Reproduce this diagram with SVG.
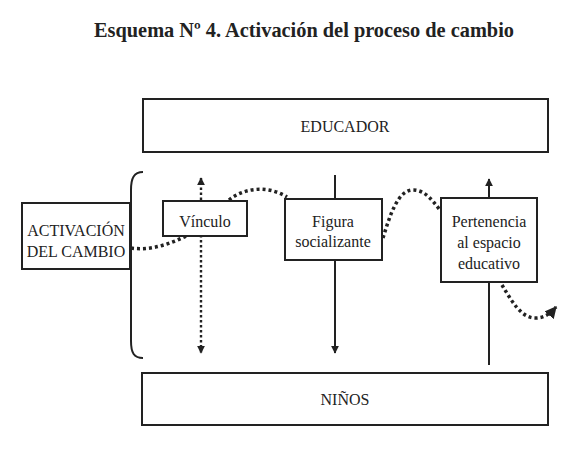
<svg xmlns="http://www.w3.org/2000/svg" width="580" height="450" viewBox="0 0 580 450" font-family="Liberation Serif, serif">
<style>
.box{fill:#fff;stroke:#222;stroke-width:2}
.t{font-size:16px;fill:#222;text-anchor:middle}
.dot{fill:none;stroke:#222;stroke-width:3.5;stroke-dasharray:3 3}
.solid{fill:none;stroke:#222;stroke-width:2}
.dl{fill:none;stroke:#222;stroke-width:2.4;stroke-dasharray:2.5 2.5}
</style>
<defs>
<marker id="ah" viewBox="0 0 10 10" refX="9" refY="5" markerWidth="8" markerHeight="8" markerUnits="userSpaceOnUse" orient="auto">
<path d="M0,0 L10,5 L0,10 z" fill="#222"/>
</marker>
<marker id="ahb" viewBox="0 0 10 10" refX="9" refY="5" markerWidth="12" markerHeight="12" markerUnits="userSpaceOnUse" orient="auto">
<path d="M0,0 L10,5 L0,10 z" fill="#222"/>
</marker>
</defs>
<rect width="580" height="450" fill="#fff"/>
<text x="304" y="37" font-weight="bold" font-size="21" fill="#222" text-anchor="middle" textLength="420" lengthAdjust="spacingAndGlyphs">Esquema Nº 4. Activación del proceso de cambio</text>

<g id="connectors">
<path class="dl" d="M201,230 L201,178" marker-end="url(#ah)"/>
<path class="dl" d="M201,230 L201,353" marker-end="url(#ah)"/>
<path class="solid" d="M335,175 L335,353" marker-end="url(#ah)"/>
<path class="solid" d="M489,365 L489,179" marker-end="url(#ah)"/>
<path class="dot" d="M131,248 C150,251 170,244 186,236"/>
<path class="dot" d="M229,200 C242,189 266,184 287,197"/>
<path class="dot" d="M383,238 C390,215 398,190 413,190 C425,190 432,200 440,210"/>
<path class="dot" d="M502,285 C511,300 521,318 535,318 C545,318 551,313 556,307" marker-end="url(#ahb)"/>
<path class="solid" d="M143,172 C134,172 131,178 131,190 L131,341 C131,353 134,358 143,358"/>
</g>

<g id="educador">
<rect class="box" x="143" y="99" width="405" height="53"/>
<text class="t" x="345" y="132">EDUCADOR</text>
</g>
<g id="ninos">
<rect class="box" x="142" y="373" width="406" height="52"/>
<text class="t" x="345" y="405">NIÑOS</text>
</g>
<g id="activacion">
<rect class="box" x="22" y="203" width="108" height="66"/>
<text class="t" x="76" y="236">ACTIVACIÓN</text>
<text class="t" x="76" y="257">DEL CAMBIO</text>
</g>
<g id="vinculo">
<rect class="box" x="163" y="201" width="84" height="35"/>
<text class="t" x="205" y="227">Vínculo</text>
</g>
<g id="figura">
<rect class="box" x="285" y="199" width="97" height="61"/>
<text class="t" x="333" y="227" font-size="15">Figura</text>
<text class="t" x="333" y="247" font-size="15">socializante</text>
</g>
<g id="pertenencia">
<rect class="box" x="441" y="198" width="96" height="84"/>
<text class="t" x="489" y="227">Pertenencia</text>
<text class="t" x="489" y="248">al espacio</text>
<text class="t" x="489" y="269">educativo</text>
</g>
</svg>
